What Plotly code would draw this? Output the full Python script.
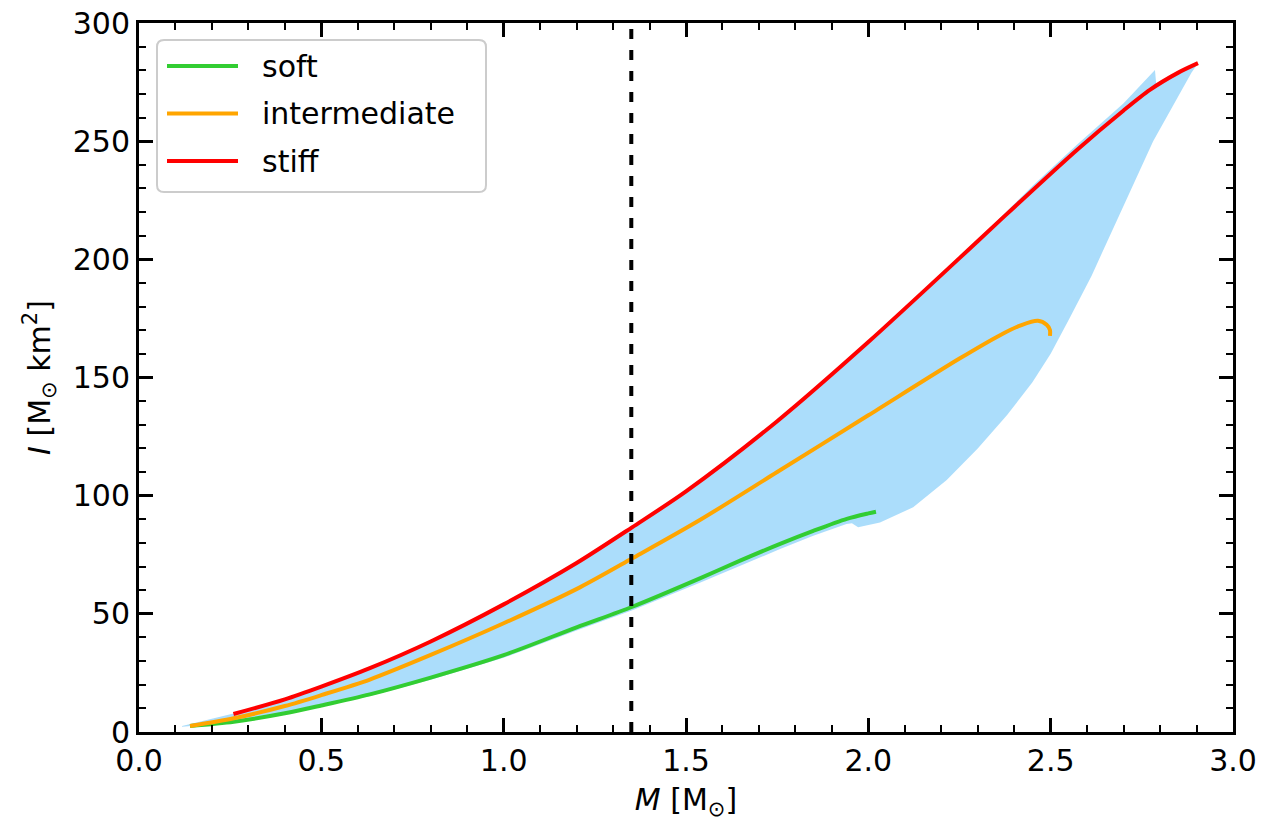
import plotly.graph_objects as go

# Moment of inertia I [M_sun km^2] versus gravitational mass M [M_sun]
soft_M = [0.14, 0.26, 0.40, 0.50, 0.633, 0.80, 1.00, 1.20, 1.353, 1.538, 1.65, 1.758, 1.849, 1.941, 2.00, 2.021]
soft_I = [2.5, 4.3, 7.9, 11.2, 15.9, 23.0, 32.5, 44.3, 53.0, 65.0, 72.6, 79.6, 85.1, 90.2, 92.5, 93.2]

inter_M = [0.14, 0.26, 0.40, 0.50, 0.633, 0.80, 1.00, 1.209, 1.353, 1.538, 1.75, 2.00, 2.25, 2.36, 2.42, 2.465, 2.489, 2.498, 2.498]
inter_I = [2.5, 5.8, 11.0, 15.6, 22.2, 32.6, 46.0, 61.2, 73.5, 89.7, 110.0, 134.0, 158.0, 167.8, 172.2, 174.0, 172.3, 170.1, 167.6]

stiff_M = [0.259, 0.40, 0.50, 0.633, 0.80, 1.00, 1.20, 1.353, 1.50, 1.75, 2.00, 2.25, 2.361, 2.572, 2.70, 2.772, 2.85, 2.904]
stiff_I = [7.6, 13.8, 19.2, 27.0, 38.3, 54.0, 71.5, 86.7, 101.8, 131.5, 165.0, 200.5, 216.5, 246.3, 263.0, 271.7, 279.0, 283.0]

# Envelope of the EoS family (upper and lower edges, both ordered by mass)
band_upper_M = [0.118, 0.20, 0.259, 0.40, 0.50, 0.633, 0.80, 1.00, 1.20, 1.353, 1.50, 1.75, 2.00, 2.25, 2.45, 2.572, 2.70, 2.786, 2.79, 2.85, 2.904]
band_upper_I = [2.5, 5.6, 7.8, 14.0, 19.3, 27.1, 38.4, 54.1, 71.6, 86.8, 101.9, 131.6, 165.1, 200.7, 231.0, 248.5, 266.0, 280.1, 273.2, 279.2, 283.0]
band_lower_M = [0.118, 0.26, 0.40, 0.50, 0.633, 0.80, 1.00, 1.20, 1.353, 1.538, 1.65, 1.758, 1.849, 1.94, 1.955, 1.972, 2.032, 2.123, 2.215, 2.30, 2.38, 2.45, 2.50, 2.55, 2.612, 2.695, 2.781, 2.886, 2.904]
band_lower_I = [2.2, 4.0, 7.4, 10.6, 15.2, 22.1, 31.4, 43.0, 51.5, 63.2, 70.4, 77.4, 83.0, 88.0, 88.3, 86.6, 88.6, 95.1, 106.6, 120.0, 134.0, 148.0, 160.0, 174.5, 193.0, 221.0, 250.0, 279.0, 283.0]

M_ref = 1.35

x_ticks = [0.0, 0.5, 1.0, 1.5, 2.0, 2.5, 3.0]
y_ticks = [0, 50, 100, 150, 200, 250, 300]

legend_names = ["soft", "intermediate", "stiff"]
colors = ["#32CD32", "#FFA500", "#FF0000"]

FONT = "DejaVu Sans"
W, H = 1267, 823
ML, MR, MT, MB = 139, 34, 23, 91
PW, PH = W - ML - MR, H - MT - MB


def px_x(px):
    return (px - ML) / PW


def px_y(py):
    return (H - MB - py) / PH


fig = go.Figure()

fig.add_trace(go.Scatter(
    x=band_upper_M + band_lower_M[::-1],
    y=band_upper_I + band_lower_I[::-1],
    fill="toself", fillcolor="rgba(135,206,250,0.7)",
    mode="lines", line=dict(width=0), hoverinfo="skip", showlegend=False,
))

for name, mx, iy, c in zip(legend_names,
                           [soft_M, inter_M, stiff_M],
                           [soft_I, inter_I, stiff_I], colors):
    fig.add_trace(go.Scatter(
        x=mx, y=iy, name=name, mode="lines",
        line=dict(color=c, width=4, shape="spline", smoothing=0.8),
        showlegend=False,
    ))

fig.add_vline(x=M_ref, line=dict(color="black", width=4, dash="10px,11px"), layer="above")

# Legend box drawn by hand (rounded frame, sample lines, labels)
x0, x1, y0, y1, r = 157, 486, 40, 192, 7
rx, ry = r / PW, r / PH
X0, X1, Y0, Y1 = px_x(x0), px_x(x1), px_y(y1), px_y(y0)
path = (f"M {X0+rx},{Y0} L {X1-rx},{Y0} Q {X1},{Y0} {X1},{Y0+ry} "
        f"L {X1},{Y1-ry} Q {X1},{Y1} {X1-rx},{Y1} L {X0+rx},{Y1} "
        f"Q {X0},{Y1} {X0},{Y1-ry} L {X0},{Y0+ry} Q {X0},{Y0} {X0+rx},{Y0} Z")
fig.add_shape(type="path", path=path, xref="paper", yref="paper",
              fillcolor="rgba(255,255,255,0.8)", line=dict(color="#cccccc", width=2), layer="above")
for k, (name, c) in enumerate(zip(legend_names, colors)):
    yy = px_y(66 + 47.5 * k)
    fig.add_shape(type="line", xref="paper", yref="paper",
                  x0=px_x(167), x1=px_x(238), y0=yy, y1=yy,
                  line=dict(color=c, width=4), layer="above")
    fig.add_annotation(x=px_x(260), y=yy, xref="paper", yref="paper",
                       text=name, showarrow=False, xanchor="left", yanchor="middle",
                       font=dict(family=FONT, size=30, color="black"))

axis_common = dict(
    showline=True, linecolor="black", linewidth=3, mirror="allticks",
    ticks="inside", ticklen=14, tickwidth=2.5, tickcolor="black",
    showgrid=False, zeroline=False, automargin=False,
    tickfont=dict(family=FONT, size=30, color="black"),
)

fig.update_xaxes(
    range=[0, 3], tickvals=x_ticks, ticktext=[f"{v:.1f}" for v in x_ticks],
    minor=dict(ticks="inside", dtick=0.1, ticklen=7, tickwidth=2, tickcolor="black"),
    title=dict(text="<i>M</i> [M<sub>⊙</sub>]", font=dict(family=FONT, size=30, color="black"), standoff=12),
    **axis_common,
)
fig.update_yaxes(
    range=[0, 300], tickvals=y_ticks, ticktext=[str(v) for v in y_ticks],
    minor=dict(ticks="inside", dtick=10, ticklen=7, tickwidth=2, tickcolor="black"),
    title=dict(text="<i>I</i> [M<sub>⊙</sub> km<sup>2</sup>]", font=dict(family=FONT, size=30, color="black"), standoff=14),
    **axis_common,
)

fig.update_layout(
    width=W, height=H,
    margin=dict(l=ML, r=MR, t=MT, b=MB),
    plot_bgcolor="white", paper_bgcolor="white",
    font=dict(family=FONT, size=30, color="black"),
    showlegend=False,
)

fig.write_html("out.html")
